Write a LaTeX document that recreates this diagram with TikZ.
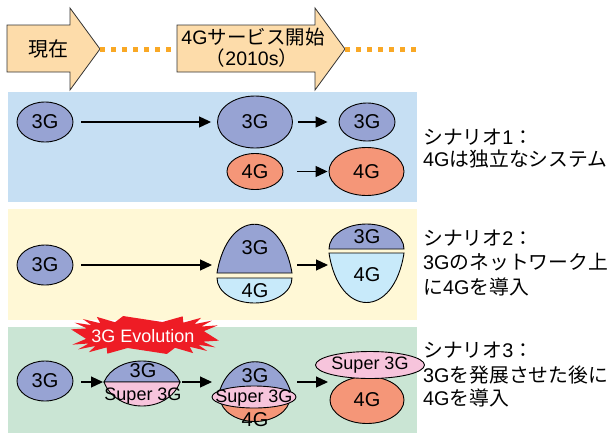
\documentclass[tikz,border=0pt]{standalone}
\usepackage{fontspec}
\setmainfont{Liberation Sans}
\newfontfamily\jp{Noto Sans CJK JP}
\usetikzlibrary{shapes.geometric,arrows.meta}
\definecolor{cthree}{HTML}{97A3D3}
\definecolor{cfour}{HTML}{F59678}
\definecolor{clblue}{HTML}{C8EAFA}
\definecolor{cpink}{HTML}{F7C4DC}
\definecolor{pblue}{HTML}{C6DFF3}
\definecolor{pyellow}{HTML}{FFF8D6}
\definecolor{pgreen}{HTML}{CAE5D4}
\definecolor{cpeach}{HTML}{FDDCAA}
\definecolor{cdot}{HTML}{F9A825}
\definecolor{cburst}{HTML}{EE1C25}
\tikzset{
  ell/.style={ellipse, draw=black, line width=0.9pt, inner sep=0pt, font=\fontsize{20}{20}\selectfont},
  shp/.style={draw=black, line width=0.9pt},
  lbl/.style={inner sep=0pt, font=\fontsize{20}{20}\selectfont},
  slbl/.style={inner sep=0pt, font=\fontsize{18}{18}\selectfont},
  arr/.style={line width=1.2pt, -{Triangle[length=12pt,width=11pt]}},
  tarrow/.style={draw=black!80, line width=0.8pt, fill=cpeach},
  dotline/.style={cdot, line width=5pt, dash pattern=on 5pt off 6pt},
  side/.style={anchor=base west, inner sep=0pt, font=\fontsize{19.8}{19.8}\selectfont},
}
\begin{document}
\begin{tikzpicture}[x=1pt,y=-1pt]
\useasboundingbox (0,0) rectangle (612,434);
% panels
\fill[pblue] (8,92) rectangle (417,202);
\fill[pyellow] (8,209) rectangle (417,320);
\fill[pgreen] (8,327) rectangle (417,433);
% top timeline arrows
\draw[tarrow] (7,25) -- (70,25) -- (70,8) -- (100,49) -- (70,90) -- (70,72) -- (7,72) -- cycle;
\draw[tarrow] (177,25) -- (315,25) -- (315,8) -- (345,49) -- (315,90) -- (315,72) -- (177,72) -- cycle;
\coordinate (tip1) at (100,49);
\coordinate (tail2) at (177,49);
\coordinate (tip2) at (345,49);
\coordinate (dotend) at (418,49);
\draw[dotline] (tip1) -- (tail2);
\draw[dotline] (tip2) -- (dotend);
\node[anchor=base, inner sep=0pt, font=\fontsize{20}{20}\selectfont\jp] (now) at (48,56) {現在};
\node[anchor=base, inner sep=0pt, font=\fontsize{19.5}{19.5}\selectfont] (start) at (253,44) {4G{\jp サービス開始}};
\node[anchor=base, inner sep=0pt, font=\fontsize{19.5}{19.5}\selectfont] (year) at (252,65) {{\jp （}2010s{\jp ）}};
% scenario 1
\node[ell, fill=cthree, minimum width=56pt, minimum height=40pt] (p1a) at (45,122) {3G};
\node[ell, fill=cthree, minimum width=75pt, minimum height=52pt] (p1b) at (255,122) {3G};
\node[ell, fill=cthree, minimum width=56pt, minimum height=38pt] (p1c) at (367,122) {3G};
\node[ell, fill=cfour, minimum width=56pt, minimum height=36pt] (p1d) at (255,171.5) {4G};
\node[ell, fill=cfour, minimum width=75pt, minimum height=48pt] (p1e) at (366.5,171.5) {4G};
\draw[arr] ([xshift=8pt]p1a.east) -- ([xshift=-6pt]p1b.west);
\draw[arr] ([xshift=5pt]p1b.east) -- ([xshift=-11pt]p1c.west);
\draw[arr] ([xshift=14pt]p1d.east) -- ([xshift=-1pt]p1e.west);
% scenario 2
\node[ell, fill=cthree, minimum width=56pt, minimum height=40pt] (p2a) at (45,265) {3G};
\draw[shp, fill=cthree] (217,273) .. controls (228,208) and (281,208) .. (292,273) -- cycle;
\draw[shp, fill=clblue] (217,278) .. controls (217,291.8) and (233.8,303) .. (254.5,303) .. controls (275.2,303) and (292,291.8) .. (292,278) -- cycle;
\draw[shp, fill=cthree] (329,249) .. controls (329,235.2) and (345.8,224) .. (366.5,224) .. controls (387.2,224) and (404,235.2) .. (404,249) -- cycle;
\draw[shp, fill=clblue] (329,253) .. controls (339,319) and (394,319) .. (404,253) -- cycle;
\node[lbl] (p2b3) at (255,248) {3G};
\node[lbl] (p2b4) at (255,291) {4G};
\node[lbl] (p2c3) at (367,237) {3G};
\node[lbl] (p2c4) at (367,275) {4G};
\coordinate (p2in) at (217,265);
\coordinate (p2out) at (292,265);
\coordinate (p2in2) at (329,265);
\draw[arr] ([xshift=8pt]p2a.east) -- ([xshift=-5pt]p2in);
\draw[arr] ([xshift=5pt]p2out) -- ([xshift=-1pt]p2in2);
% scenario 3
\fill[cburst] plot[samples at={0,1,...,35}, variable=\i]
  ({145 + (mod(\i,2)==0 ? 74 : 59)*cos(\i*10+5)/sqrt(abs(cos(\i*10+5)))},
   {335 + (mod(\i,2)==0 ? 19 : 13)*sin(\i*10+5)/sqrt(abs(sin(\i*10+5)))}) -- cycle;
\node[inner sep=0pt, text=white, font=\fontsize{18}{18}\selectfont] (evo) at (143,336) {3G Evolution};
\node[ell, fill=cthree, minimum width=56pt, minimum height=40pt] (p3a) at (45,381) {3G};
\draw[shp, fill=cthree] (104,382) .. controls (116,354) and (168,354) .. (180,382) -- cycle;
\draw[shp, fill=cpink] (104,382) .. controls (116,414) and (168,414) .. (180,382) -- cycle;
\node[lbl] (p3b3) at (143,371) {3G};
\node[slbl] (p3bs) at (143,396) {Super 3G};
\draw[shp, fill=cthree] (218,397) .. controls (228,350) and (282,350) .. (292,397) -- cycle;
\draw[shp, fill=cfour] (220,397) .. controls (220,412) and (238,421.5) .. (255,421.5) .. controls (272,421.5) and (290,412) .. (290,397) -- cycle;
\node[ell, fill=cpink, minimum width=84pt, minimum height=22pt] (p3cs) at (254,397) {};
\node[lbl] (p3c3) at (255,376) {3G};
\node[slbl] (p3csl) at (254,398) {Super 3G};
\node[lbl] (p3c4) at (255,420) {4G};
\node[ell, fill=cfour, minimum width=74pt, minimum height=47pt] (p3d4) at (367,400) {4G};
\node[ell, fill=cpink, minimum width=77pt, minimum height=27pt, font=\fontsize{18}{18}\selectfont] (p3ds) at (370,365) {Super 3G};
\coordinate (s2l) at (104,382);
\coordinate (s2r) at (180,382);
\coordinate (s3l) at (213,382);
\coordinate (s3r) at (292,382);
\coordinate (s4l) at (330,382);
\draw[arr] ([xshift=8pt]p3a.east |- s2l) -- ([xshift=-1pt]s2l);
\draw[arr] ([xshift=2pt]s2r) -- ([xshift=-1pt]s3l);
\draw[arr] ([xshift=5pt]s3r) -- ([xshift=-2pt]s4l);
% side texts
\node[side] (s1a) at (423,144) {{\jp シナリオ}1{\jp ：}};
\node[side] (s1b) at (423,166) {4G{\jp は独立なシステム}};
\node[side] (s2a) at (423,245) {{\jp シナリオ}2{\jp ：}};
\node[side] (s2b) at (423,269) {3G{\jp のネットワーク上}};
\node[side] (s2c) at (423,294) {{\jp に}4G{\jp を導入}};
\node[side] (s3a) at (423,357) {{\jp シナリオ}3{\jp ：}};
\node[side] (s3b) at (423,382) {3G{\jp を発展させた後に}};
\node[side] (s3c) at (423,405) {4G{\jp を導入}};
\end{tikzpicture}
\end{document}
